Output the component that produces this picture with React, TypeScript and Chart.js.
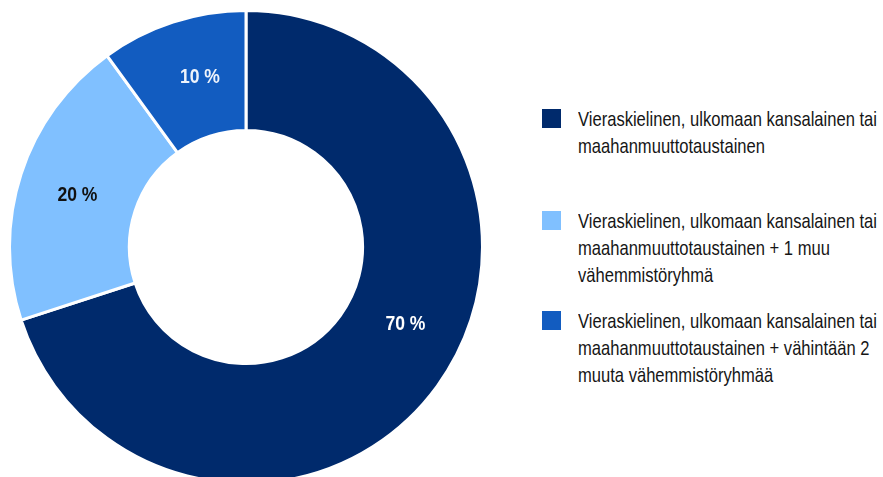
import React, { useEffect, useRef, useState } from "react";
import { Chart, registerables } from "chart.js";

Chart.register(...registerables);

const categories: string[][] = [
  ["Vieraskielinen, ulkomaan kansalainen tai", "maahanmuuttotaustainen"],
  ["Vieraskielinen, ulkomaan kansalainen tai", "maahanmuuttotaustainen + 1 muu", "vähemmistöryhmä"],
  ["Vieraskielinen, ulkomaan kansalainen tai", "maahanmuuttotaustainen + vähintään 2", "muuta vähemmistöryhmää"],
];
const values: number[] = [70, 20, 10];
const valueLabels: string[] = ["70 %", "20 %", "10 %"];
const colors: string[] = ["#002a6c", "#80c0ff", "#125cc0"];
const labelColors: string[] = ["#ffffff", "#111111", "#eef3fb"];
const labelAngleFrac: number[] = [0.458, 0.49, 0.58];

const FONT = "'Liberation Sans', Arial, sans-serif";
const LEGEND_LINE_WIDTH = 299; // target pixel width of the longest legend line
const LABEL_WIDTH = 40; // target pixel width of "70 %"

function measure(text: string, font: string): number {
  const c = document.createElement("canvas").getContext("2d")!;
  c.font = font;
  return c.measureText(text).width;
}

const labelPlugin = {
  id: "sliceLabels",
  afterDatasetsDraw(chart: any) {
    const ctx = chart.ctx;
    const meta = chart.getDatasetMeta(0);
    ctx.save();
    const font = `bold 21px ${FONT}`;
    ctx.font = font;
    const sx = LABEL_WIDTH / ctx.measureText(valueLabels[0]).width;
    ctx.textAlign = "center";
    ctx.textBaseline = "middle";
    meta.data.forEach((arc: any, i: number) => {
      const p = arc.getProps(["x", "y", "startAngle", "endAngle", "innerRadius", "outerRadius"], true);
      const a = p.startAngle + (p.endAngle - p.startAngle) * labelAngleFrac[i];
      const r = (p.innerRadius + p.outerRadius) / 2;
      ctx.save();
      ctx.translate(p.x + Math.cos(a) * r, p.y + Math.sin(a) * r);
      ctx.scale(sx, 1);
      ctx.fillStyle = labelColors[i];
      ctx.fillText(valueLabels[i], 0, 1);
      ctx.restore();
    });
    ctx.restore();
  },
};

export default function App() {
  const ref = useRef<HTMLCanvasElement | null>(null);
  const [scale, setScale] = useState(0.75);

  useEffect(() => {
    const w = measure(categories[0][0], `21px ${FONT}`);
    if (w > 0) setScale(LEGEND_LINE_WIDTH / w);
  }, []);

  useEffect(() => {
    if (!ref.current) return;
    const chart = new Chart(ref.current, {
      type: "doughnut",
      data: {
        labels: categories.map((c) => c.join(" ")),
        datasets: [
          {
            data: values,
            backgroundColor: colors,
            borderColor: "#ffffff",
            borderWidth: 3,
          },
        ],
      },
      options: {
        animation: false,
        responsive: false,
        maintainAspectRatio: false,
        cutout: "49.3%",
        layout: { padding: 0 },
        plugins: {
          legend: { display: false },
          tooltip: { enabled: false },
        },
      },
      plugins: [labelPlugin],
    });
    return () => chart.destroy();
  }, []);

  const legendTops = [105, 207, 307];

  return (
    <div
      style={{
        position: "fixed",
        left: 0,
        top: 0,
        width: 883,
        height: 477,
        overflow: "hidden",
        background: "#ffffff",
      }}
    >
      <canvas
        ref={ref}
        width={476}
        height={476}
        style={{ position: "absolute", left: 8, top: 9, width: 476, height: 476 }}
      />
      {categories.map((lines, i) => (
        <div key={i} style={{ position: "absolute", left: 542, top: legendTops[i] }}>
          <div
            style={{
              position: "absolute",
              left: 0,
              top: 4,
              width: 19,
              height: 19,
              background: colors[i],
            }}
          />
          <div
            style={{
              position: "absolute",
              left: 36,
              top: 0,
              whiteSpace: "nowrap",
              fontFamily: FONT,
              fontSize: 21,
              lineHeight: "27px",
              color: "#161616",
              transformOrigin: "0 0",
              transform: `scaleX(${scale})`,
            }}
          >
            {lines.map((l, j) => (
              <div key={j}>{l}</div>
            ))}
          </div>
        </div>
      ))}
    </div>
  );
}
